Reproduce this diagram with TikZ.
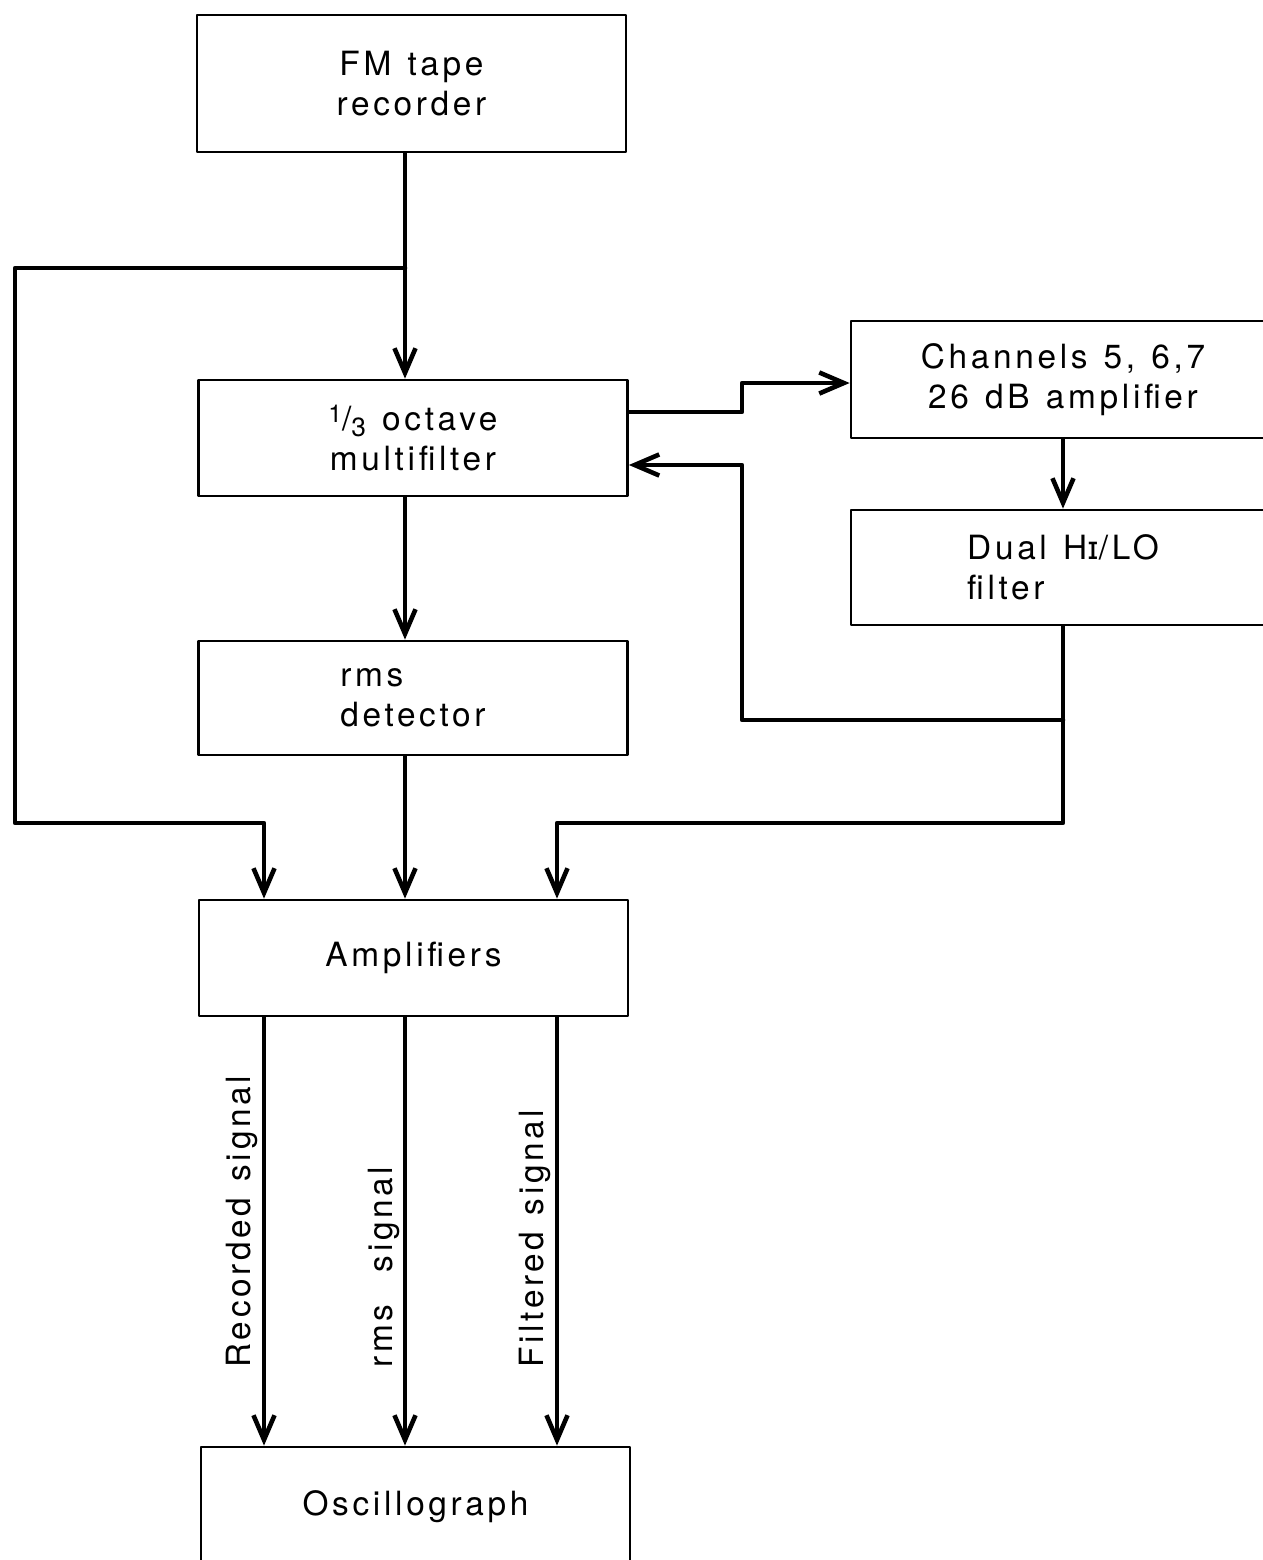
\documentclass[tikz,border=0pt]{standalone}
\usepackage{fontspec}
\setmainfont{TeX Gyre Heros}[LetterSpace=11, WordSpace=1.25]
\newfontfamily\dejavu{DejaVu Sans}
\usetikzlibrary{arrows.meta,calc}
\newcommand{\phanba}{\raisebox{.45ex}{\fontsize{14}{14}\selectfont 1}/\raisebox{-.35ex}{\fontsize{15}{15}\selectfont 3}}
\tikzset{
	khoi/.style={draw, line width=1.6pt, minimum width=8.58cm, minimum height=2.32cm,
		align=center, font=\fontsize{19}{23}\selectfont},
	nhan/.style={rotate=90, anchor=base west, inner sep=0pt, font=\fontsize{19}{23}\selectfont}
}
\begin{document}
\begin{tikzpicture}[x=0.02cm, y=-0.02cm, line join=round, line cap=round,
	>={Straight Barb[length=14pt,width=12pt]}]
				\useasboundingbox (0,0) rectangle (1263,1560);
				%% Khai bao khoi
				\node[khoi, minimum height=2.74cm] (F) at (411.5,83.5) {FM tape\\recorder};
				\node[khoi] (M) at (413,438) {\phanba\ octave\\multifilter};
				\node[khoi, minimum height=2.28cm, align=left] (R) at (413,698) {rms\\detector};
				\node[khoi] (A) at (413.5,958) {Amplifiers};
				\node[khoi, minimum height=2.38cm] (O) at (415.5,1506.5) {Oscillograph};
				\node[khoi, minimum width=8.48cm, minimum height=2.34cm] (C) at (1063,379.5) {Channels 5, 6,7\\26 dB amplifier};
				\node[khoi, minimum width=8.48cm, minimum height=2.30cm, align=left] (D) at (1063,567.5) {Dual H{\dejavu\fontsize{18}{18}\selectfont ɪ}/LO\\filter};
				%% Khai bao diem
				\path 
				(405,268) coordinate (K)
				(15,268) coordinate (W1)
				(15,823) coordinate (W2)
				(264,823) coordinate (W3)
				(742,412) coordinate (U1)
				(742,383) coordinate (U2)
				(1063,720) coordinate (J)
				(742,720) coordinate (J1)
				(742,465) coordinate (V)
				(1063,823) coordinate (E1)
				(557,823) coordinate (E2)
				;
				%% ve mui ten
				\begin{scope}[line width=2.6pt]
				\draw[->] (F.south -| K) -- (M.north -| K);
				\draw[->] (K) -- (W1) -- (W2) -- (W3) -- (A.north -| W3);
				\draw[->] (M.south -| K) -- (R.north -| K);
				\draw[->] (R.south -| K) -- (A.north -| K);
				\draw[->] (M.east |- U1) -- (U1) -- (U2) -- (C.west |- U2);
				\draw[->] (C.south) -- (D.north);
				\draw[->] (D.south) -- (E1) -- (E2) -- (A.north -| E2);
				\draw[->] (J) -- (J1) -- (V) -- (M.east |- V);
				\foreach \c in {W3,K,E2}
				\draw[->] (A.south -| \c) -- (O.north -| \c);
				\end{scope}
				%% tin hieu
				\node[nhan] (L1) at (250,1368) {Recorded signal};
				\node[nhan] (L2) at (392,1368) {rms\ \ signal};
				\node[nhan] (L3) at (543,1368) {Filtered signal};
\end{tikzpicture}
\end{document}
